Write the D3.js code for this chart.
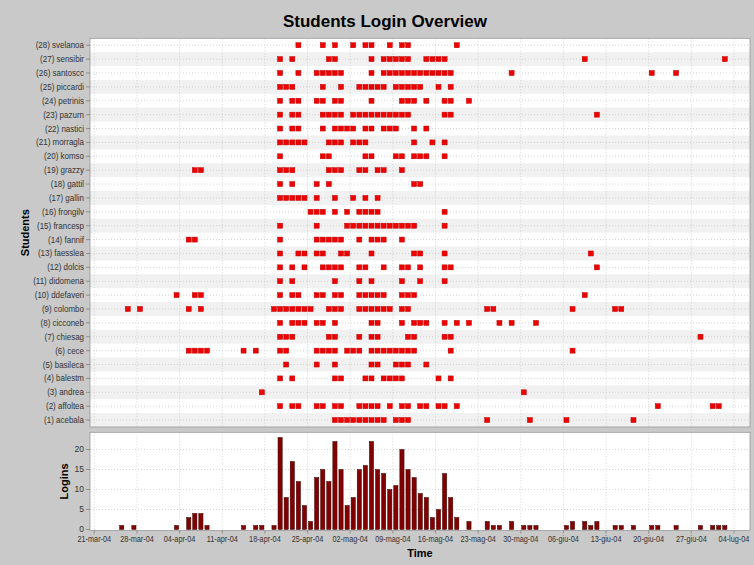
<!DOCTYPE html>
<html>
<head>
<meta charset="utf-8">
<script src="https://cdnjs.cloudflare.com/ajax/libs/d3/7.8.5/d3.min.js"></script>
<style>
  body { margin: 0; background: #c9c9c9; }
  svg { display: block; font-family: "Liberation Sans", Arial, sans-serif; }
</style>
</head>
<body>
<div id="chart"></div>
<script>
// students, (1) at the bottom up to (28) at the top
var students = ["acebala", "affoltea", "andrea", "balestm", "basileca", "cece", "chiesag",
  "cicconeb", "colombo", "ddefaveri", "didomena", "dolcis", "faesslea", "fannif",
  "francesp", "frongilv", "gallin", "gattil", "grazzy", "komso", "morragla", "nastici",
  "pazurn", "petrinis", "piccardi", "santoscc", "sensibir", "svelanoa"];

// days (counted from 21-mar-04) with at least one login, same order as students
var loginDays = [
  [39, 40, 41, 42, 43, 44, 45, 46, 47, 49, 50, 51, 64, 71, 77, 88],
  [30, 32, 33, 36, 37, 39, 40, 43, 44, 45, 46, 48, 50, 51, 53, 54, 56, 57, 59, 92, 101, 102],
  [27, 70],
  [30, 32, 39, 40, 44, 45, 47, 48, 49, 50, 56, 58],
  [31, 36, 39, 45, 46, 49, 50, 51, 54],
  [15, 16, 17, 18, 24, 26, 30, 31, 36, 37, 38, 39, 41, 42, 43, 45, 46, 47, 48, 49, 50, 51, 52, 58, 78],
  [30, 31, 32, 38, 39, 43, 45, 46, 51, 52, 57, 58, 99],
  [30, 32, 33, 34, 36, 37, 39, 45, 46, 50, 52, 53, 54, 57, 59, 61, 66, 68, 72],
  [5, 7, 15, 17, 29, 30, 31, 32, 33, 34, 35, 38, 39, 40, 43, 44, 45, 46, 47, 48, 50, 51, 64, 65, 78, 85, 86],
  [13, 16, 17, 30, 32, 33, 36, 37, 39, 40, 43, 44, 45, 46, 47, 50, 51, 52, 80],
  [30, 32, 39, 43, 45, 50, 53, 57],
  [30, 32, 34, 37, 38, 39, 40, 43, 44, 47, 50, 51, 53, 57, 58, 82],
  [30, 33, 34, 36, 37, 40, 41, 45, 52, 53, 57, 81],
  [15, 16, 30, 36, 37, 38, 39, 40, 43, 45, 46, 47, 50],
  [30, 36, 41, 42, 43, 44, 45, 46, 47, 48, 49, 50, 51, 52, 57],
  [35, 36, 37, 39, 41, 43, 44, 45, 46, 57],
  [30, 31, 32, 33, 34, 36, 39, 42, 44, 46],
  [30, 32, 36, 38, 52, 53],
  [16, 17, 30, 31, 32, 38, 39, 40, 43, 44, 46, 47, 50],
  [30, 37, 38, 44, 45, 49, 50, 52, 53, 54, 57],
  [30, 31, 32, 33, 34, 38, 39, 40, 42, 43, 44, 52, 55, 57],
  [30, 32, 33, 37, 39, 40, 41, 42, 44, 45, 47, 48, 49, 52, 54],
  [30, 32, 33, 37, 38, 39, 40, 42, 43, 44, 45, 46, 47, 48, 49, 50, 51, 57, 58, 82],
  [30, 32, 33, 36, 37, 39, 40, 45, 50, 51, 52, 54, 57, 58, 61],
  [30, 31, 32, 37, 40, 43, 44, 45, 46, 47, 49, 50, 51, 52, 53, 56, 58],
  [30, 33, 36, 37, 38, 39, 40, 45, 47, 48, 49, 50, 51, 52, 53, 54, 55, 56, 57, 58, 68, 91, 95],
  [30, 32, 38, 39, 45, 47, 48, 49, 50, 51, 54, 55, 56, 57, 80, 103],
  [33, 37, 39, 42, 44, 45, 48, 50, 51, 59]
];

// logins per day (bottom chart)
var loginBarDays = [4, 6, 13, 15, 16, 17, 18, 24, 26, 27, 29, 30, 31, 32, 33, 34, 35, 36, 37, 38,
  39, 40, 41, 42, 43, 44, 45, 46, 47, 48, 49, 50, 51, 52, 53, 54, 55, 56, 57, 58, 59, 61,
  64, 65, 66, 68, 70, 71, 72, 77, 78, 80, 81, 82, 85, 86, 88, 91, 92, 95, 99, 101, 102, 103];
var loginCounts = [1, 1, 1, 3, 4, 4, 1, 1, 1, 1, 1, 23, 8, 17, 12, 6, 2, 13, 15, 12,
  22, 15, 6, 8, 15, 16, 22, 15, 14, 10, 11, 20, 15, 13, 9, 8, 3, 5, 14, 8, 3, 2,
  2, 1, 1, 2, 1, 1, 1, 1, 2, 2, 1, 2, 1, 1, 1, 1, 1, 1, 1, 1, 1, 1];

var tickDays = [0, 7, 14, 21, 28, 35, 42, 49, 56, 63, 70, 77, 84, 91, 98, 105];
var tickLabels = ["21-mar-04", "28-mar-04", "04-apr-04", "11-apr-04", "18-apr-04", "25-apr-04",
  "02-mag-04", "09-mag-04", "16-mag-04", "23-mag-04", "30-mag-04", "06-giu-04", "13-giu-04",
  "20-giu-04", "27-giu-04", "04-lug-04"];
var loginTicks = [0, 5, 10, 15, 20];

var width = 754, height = 565;
var plotLeft = 90, plotRight = 750;
var top1 = 38.3, bottom1 = 427;     // students plot
var top2 = 432.3, bottom2 = 530.5;  // logins plot

var startDate = Date.UTC(2004, 2, 21);
var DAY = 864e5;
function dayDate(d) { return new Date(startDate + d * DAY); }

var x = d3.scaleUtc()
  .domain([dayDate(-0.706), dayDate(107.63)])
  .range([plotLeft, plotRight]);

var yRow = d3.scaleBand()
  .domain(d3.range(students.length))
  .range([bottom1, top1]);

var yLog = d3.scaleLinear()
  .domain([0, 24.3])
  .range([529.5, top2]);

var svg = d3.select("#chart").append("svg")
  .attr("width", width)
  .attr("height", height);

svg.append("rect").attr("width", width).attr("height", height).attr("fill", "#c9c9c9");

// title
svg.append("text")
  .attr("x", 385).attr("y", 27)
  .attr("text-anchor", "middle")
  .style("font-size", "17px").style("font-weight", "bold")
  .text("Students Login Overview");

// ---- students plot ----
svg.append("rect")
  .attr("x", plotLeft).attr("y", top1)
  .attr("width", plotRight - plotLeft).attr("height", bottom1 - top1)
  .attr("fill", "#fff");

// alternating row bands
svg.append("g").selectAll("rect")
  .data(d3.range(students.length).filter(function (i) { return i % 2 === 0; }))
  .enter().append("rect")
  .attr("x", plotLeft).attr("width", plotRight - plotLeft)
  .attr("y", function (i) { return yRow(i); })
  .attr("height", yRow.bandwidth())
  .attr("fill", "#f1f1f1");

var grid1 = svg.append("g")
  .attr("stroke", "#c4c4c4").attr("stroke-width", 0.7).attr("stroke-dasharray", "1,2");
grid1.selectAll("line.h")
  .data(d3.range(students.length))
  .enter().append("line").attr("class", "h")
  .attr("x1", plotLeft).attr("x2", plotRight)
  .attr("y1", function (i) { return yRow(i) + yRow.bandwidth() / 2; })
  .attr("y2", function (i) { return yRow(i) + yRow.bandwidth() / 2; });
grid1.selectAll("line.v")
  .data(tickDays)
  .enter().append("line").attr("class", "v")
  .attr("x1", function (d) { return x(dayDate(d)); })
  .attr("x2", function (d) { return x(dayDate(d)); })
  .attr("y1", top1).attr("y2", bottom1);

// login squares
var rows = svg.append("g").selectAll("g")
  .data(loginDays)
  .enter().append("g");
rows.selectAll("rect")
  .data(function (days, i) { return days.map(function (d) { return { day: d, row: i }; }); })
  .enter().append("rect")
  .attr("x", function (p) { return x(dayDate(p.day + 0.5)) - 2.5; })
  .attr("y", function (p) { return yRow(p.row) + yRow.bandwidth() / 2 - 2.5; })
  .attr("width", 5).attr("height", 5)
  .attr("fill", "#ee0000")
  .attr("stroke", "#c00000").attr("stroke-width", 0.5);

svg.append("rect")
  .attr("x", plotLeft).attr("y", top1)
  .attr("width", plotRight - plotLeft).attr("height", bottom1 - top1)
  .attr("fill", "none").attr("stroke", "#9a9a9a").attr("stroke-width", 0.8);

// row labels
var rowAxis = svg.append("g");
rowAxis.selectAll("line")
  .data(d3.range(students.length))
  .enter().append("line")
  .attr("x1", plotLeft - 4).attr("x2", plotLeft)
  .attr("y1", function (i) { return yRow(i) + yRow.bandwidth() / 2; })
  .attr("y2", function (i) { return yRow(i) + yRow.bandwidth() / 2; })
  .attr("stroke", "#777").attr("stroke-width", 0.7);
rowAxis.selectAll("text")
  .data(students)
  .enter().append("text")
  .attr("transform", function (s, i) {
    return "translate(" + (plotLeft - 6) + "," + (yRow(i) + yRow.bandwidth() / 2) + ") scale(0.94,1)";
  })
  .attr("dy", "0.35em")
  .attr("text-anchor", "end")
  .attr("fill", "#333")
  .style("font-size", "8.5px")
  .text(function (s, i) { return "(" + (i + 1) + ") " + s; });

svg.append("text")
  .attr("transform", "translate(29," + ((top1 + bottom1) / 2) + ") rotate(-90)")
  .attr("text-anchor", "middle")
  .style("font-size", "11px").style("font-weight", "bold")
  .text("Students");

// ---- logins plot ----
svg.append("rect")
  .attr("x", plotLeft).attr("y", top2)
  .attr("width", plotRight - plotLeft).attr("height", bottom2 - top2)
  .attr("fill", "#fff");

var grid2 = svg.append("g")
  .attr("stroke", "#c4c4c4").attr("stroke-width", 0.7).attr("stroke-dasharray", "1,2");
grid2.selectAll("line.h")
  .data(loginTicks.slice(1))
  .enter().append("line").attr("class", "h")
  .attr("x1", plotLeft).attr("x2", plotRight)
  .attr("y1", function (v) { return yLog(v); })
  .attr("y2", function (v) { return yLog(v); });
grid2.selectAll("line.v")
  .data(tickDays)
  .enter().append("line").attr("class", "v")
  .attr("x1", function (d) { return x(dayDate(d)); })
  .attr("x2", function (d) { return x(dayDate(d)); })
  .attr("y1", top2).attr("y2", bottom2);

svg.append("g").selectAll("rect")
  .data(loginBarDays)
  .enter().append("rect")
  .attr("x", function (d) { return x(dayDate(d + 0.5)) - 2.1; })
  .attr("width", 4.2)
  .attr("y", function (d, i) { return yLog(loginCounts[i]); })
  .attr("height", function (d, i) { return yLog(0) - yLog(loginCounts[i]); })
  .attr("fill", "#820000")
  .attr("stroke", "#3c0000").attr("stroke-width", 0.5);

svg.append("rect")
  .attr("x", plotLeft).attr("y", top2)
  .attr("width", plotRight - plotLeft).attr("height", bottom2 - top2)
  .attr("fill", "none").attr("stroke", "#9a9a9a").attr("stroke-width", 0.8);

var logAxis = svg.append("g");
logAxis.selectAll("line")
  .data(loginTicks)
  .enter().append("line")
  .attr("x1", plotLeft - 4).attr("x2", plotLeft)
  .attr("y1", function (v) { return yLog(v); })
  .attr("y2", function (v) { return yLog(v); })
  .attr("stroke", "#777").attr("stroke-width", 0.7);
logAxis.selectAll("text")
  .data(loginTicks)
  .enter().append("text")
  .attr("x", plotLeft - 6)
  .attr("y", function (v) { return yLog(v); })
  .attr("dy", "0.35em")
  .attr("text-anchor", "end")
  .attr("fill", "#333")
  .style("font-size", "8.5px")
  .text(function (v) { return v; });

svg.append("text")
  .attr("transform", "translate(68," + ((top2 + bottom2) / 2) + ") rotate(-90)")
  .attr("text-anchor", "middle")
  .style("font-size", "11px").style("font-weight", "bold")
  .text("Logins");

// time axis
var timeAxis = svg.append("g");
timeAxis.selectAll("line")
  .data(tickDays)
  .enter().append("line")
  .attr("x1", function (d) { return x(dayDate(d)); })
  .attr("x2", function (d) { return x(dayDate(d)); })
  .attr("y1", bottom2).attr("y2", bottom2 + 3)
  .attr("stroke", "#777").attr("stroke-width", 0.7);
timeAxis.selectAll("text")
  .data(tickDays)
  .enter().append("text")
  .attr("transform", function (d) {
    return "translate(" + x(dayDate(d)) + "," + (bottom2 + 11) + ") scale(0.86,1)";
  })
  .attr("text-anchor", "middle")
  .attr("fill", "#333")
  .style("font-size", "8.5px")
  .text(function (d, i) { return tickLabels[i]; });

svg.append("text")
  .attr("x", (plotLeft + plotRight) / 2).attr("y", 557)
  .attr("text-anchor", "middle")
  .style("font-size", "11px").style("font-weight", "bold")
  .text("Time");
</script>
</body>
</html>
